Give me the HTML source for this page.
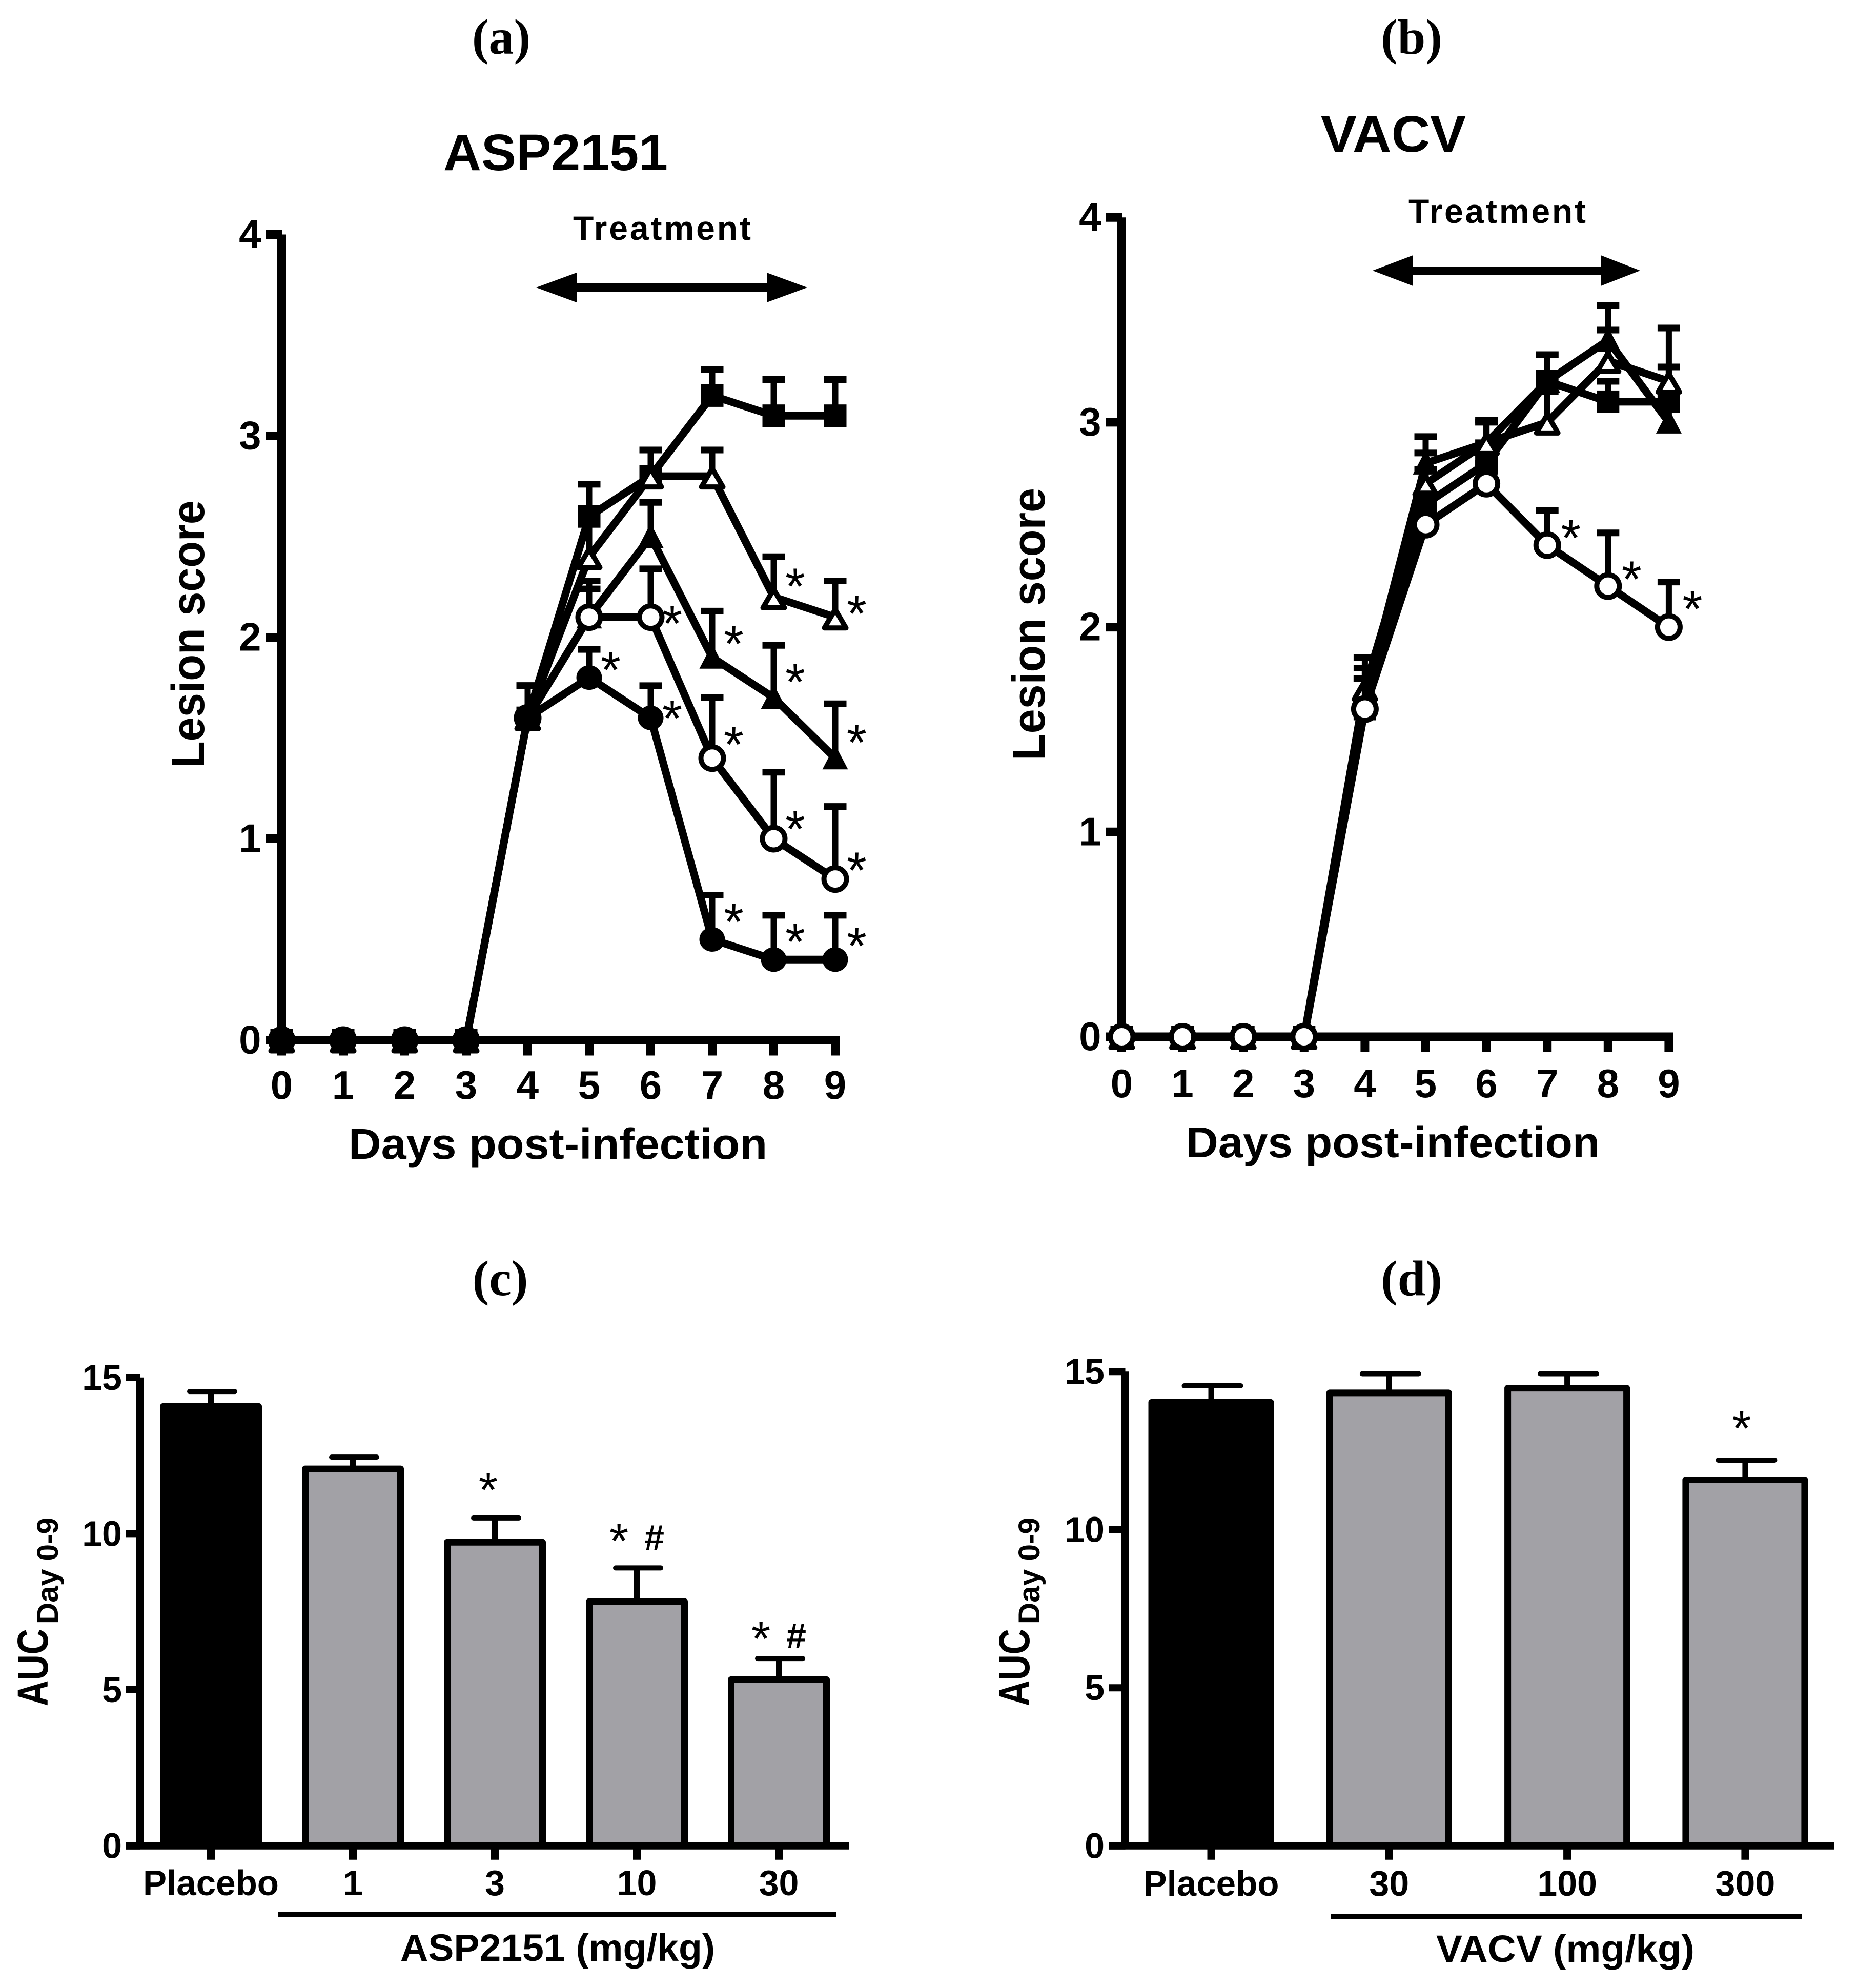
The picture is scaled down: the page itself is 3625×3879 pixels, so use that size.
<!DOCTYPE html>
<html lang="en"><head><meta charset="utf-8"><title>Lesion score and AUC panels</title>
<style>
html,body{margin:0;padding:0;background:#fff}
svg{display:block}
text{fill:#000;font-family:"Liberation Sans",sans-serif;font-weight:bold}
.serif{font-family:"Liberation Serif",serif}
</style></head><body>
<svg id="fig" xmlns="http://www.w3.org/2000/svg" width="3625" height="3879" viewBox="0 0 3625 3879">
<rect x="0" y="0" width="3625" height="3879" fill="#fff"/>
<text class="serif" x="978" y="105" font-size="98" text-anchor="middle">(a)</text>
<text class="serif" x="2754" y="105" font-size="98" text-anchor="middle">(b)</text>
<text class="serif" x="976" y="2527" font-size="98" text-anchor="middle">(c)</text>
<text class="serif" x="2754" y="2527" font-size="98" text-anchor="middle">(d)</text>

<text x="865" y="332" font-size="100" textLength="438" lengthAdjust="spacingAndGlyphs">ASP2151</text>
<text x="2577" y="296" font-size="100" textLength="283" lengthAdjust="spacingAndGlyphs">VACV</text>
<text x="1118" y="468" font-size="66" textLength="347" lengthAdjust="spacing">Treatment</text>
<text x="2748" y="435" font-size="66" textLength="346" lengthAdjust="spacing">Treatment</text>
<g>
<rect x="1120" y="553" width="380" height="16" fill="#000"/>
<polygon points="1046,561 1125,532 1125,590" fill="#000"/>
<polygon points="1575,561 1496,532 1496,590" fill="#000"/>
</g>
<g>
<rect x="2752" y="520" width="376" height="16" fill="#000"/>
<polygon points="2678,528 2757,498 2757,558" fill="#000"/>
<polygon points="3200,528 3123,498 3123,558" fill="#000"/>
</g>

<text transform="translate(398,1498) rotate(-90)" font-size="90" textLength="522" lengthAdjust="spacingAndGlyphs">Lesion score</text>
<text transform="translate(2038,1484) rotate(-90)" font-size="90" textLength="532" lengthAdjust="spacingAndGlyphs">Lesion score</text>
<text x="680" y="2261" font-size="84" textLength="817" lengthAdjust="spacingAndGlyphs">Days post-infection</text>
<text x="2314" y="2258" font-size="84" textLength="807" lengthAdjust="spacingAndGlyphs">Days post-infection</text>

<text transform="translate(93,3329) rotate(-90)" font-size="84" textLength="151" lengthAdjust="spacingAndGlyphs">AUC</text>
<text transform="translate(113,3169) rotate(-90)" font-size="58" textLength="208" lengthAdjust="spacingAndGlyphs">Day 0-9</text>
<text transform="translate(2008,3329) rotate(-90)" font-size="84" textLength="151" lengthAdjust="spacingAndGlyphs">AUC</text>
<text transform="translate(2028,3169) rotate(-90)" font-size="58" textLength="208" lengthAdjust="spacingAndGlyphs">Day 0-9</text>

<rect x="543" y="3730" width="1089" height="10" fill="#000"/>
<rect x="2596" y="3734" width="919" height="10" fill="#000"/>
<text x="781" y="3826" font-size="74" textLength="614" lengthAdjust="spacingAndGlyphs">ASP2151 (mg/kg)</text>
<text x="2802" y="3828" font-size="74" textLength="504" lengthAdjust="spacingAndGlyphs">VACV (mg/kg)</text>
<g id="plots"></g>
</svg>
<script>
// ---- Chart (a) data ----
const days = [0,1,2,3,4,5,6,7,8,9];
const lesionTicks = [0,1,2,3,4];
const aSquareValues   = [0,0,0,0,1.6,2.6,2.8,3.2,3.1,3.1];
const aSquareErrors   = [0,0,0,0,1.76,2.76,2.93,3.33,3.28,3.28];
const aOpenTriValues  = [0,0,0,0,1.6,2.4,2.8,2.8,2.2,2.1];
const aOpenTriErrors  = [0,0,0,0,1.76,2.6,2.93,2.93,2.4,2.28];
const aFillTriValues  = [0,0,0,0,1.6,2.1,2.5,1.9,1.7,1.4];
const aFillTriErrors  = [0,0,0,0,1.76,2.28,2.67,2.13,1.96,1.67];
const aOpenCircValues = [0,0,0,0,1.6,2.1,2.1,1.4,1.0,0.8];
const aOpenCircErrors = [0,0,0,0,1.76,2.24,2.34,1.70,1.33,1.16];
const aFillCircValues = [0,0,0,0,1.6,1.8,1.6,0.5,0.4,0.4];
const aFillCircErrors = [0,0,0,0,1.76,1.94,1.76,0.72,0.62,0.62];
const aStarDays   = [8,9,6,7,5,6,8,9,7,8,9,7,8,9];
const aStarLevels = [2.285,2.15,2.10,2.0,1.87,1.63,1.81,1.51,1.50,1.08,0.875,0.62,0.52,0.50];
// ---- Chart (b) data ----
const bSquareValues   = [0,0,0,0,1.6,2.6,2.8,3.2,3.1,3.1];
const bSquareErrors   = [0,0,0,0,1.75,2.77,2.9,3.33,3.2,3.27];
const bFillTriValues  = [0,0,0,0,1.65,2.8,2.9,3.2,3.4,3.0];
const bFillTriErrors  = [0,0,0,0,1.85,2.93,3.01,3.33,3.57,3.1];
const bOpenTriValues  = [0,0,0,0,1.7,2.7,2.9,3.0,3.3,3.2];
const bOpenTriErrors  = [0,0,0,0,1.8,2.85,3.0,3.15,3.45,3.46];
const bOpenCircValues = [0,0,0,0,1.6,2.5,2.7,2.4,2.2,2.0];
const bOpenCircErrors = [0,0,0,0,1.75,2.65,2.8,2.57,2.46,2.22];
const bStarDays   = [7,8,9];
const bStarLevels = [2.467,2.266,2.12];
// ---- Chart (c) data ----
const cCategories = ['Placebo','1','3','10','30'];
const cValues = [14.18,12.18,9.83,7.93,5.43];
const cErrors = [14.55,12.45,10.5,8.9,6.0];
const cStarBars = [2,3,4];
const cStarLevels = [11.6,9.97,6.83];
const cHashBars = [3,4];
// ---- Chart (d) data ----
const dCategories = ['Placebo','30','100','300'];
const dValues = [14.13,14.43,14.58,11.68];
const dErrors = [14.55,14.93,14.93,12.2];
const dStarBars = [3];
const dStarLevels = [13.4];
const dHashBars = [];
const aucTicks = [0,5,10,15];

const NS = 'http://www.w3.org/2000/svg';
const plots = document.getElementById('plots');
function mk(parent, tag, attrs, txt) {
  const el = document.createElementNS(NS, tag);
  for (const k in attrs) el.setAttribute(k, attrs[k]);
  if (txt !== undefined) el.textContent = txt;
  parent.appendChild(el);
  return el;
}
function star(parent, cx, cy, size, name) {
  const el = mk(parent, 'text', {x: cx, y: cy + size * 0.47, 'font-size': size, 'text-anchor': 'middle', style: 'font-weight:normal'}, '*');
  
  
}
function marker(parent, kind, cx, cy, name) {
  let el;
  if (kind === 'square') el = mk(parent, 'rect', {x: cx - 22, y: cy - 22, width: 44, height: 44, fill: '#000'});
  if (kind === 'fillCirc') el = mk(parent, 'ellipse', {cx: cx, cy: cy, rx: 25, ry: 24, fill: '#000'});
  if (kind === 'openCirc') el = mk(parent, 'circle', {cx: cx, cy: cy, r: 22, fill: '#fff', stroke: '#000', 'stroke-width': 10});
  if (kind === 'fillTri') el = mk(parent, 'polygon', {points: (cx) + ',' + (cy - 26) + ' ' + (cx + 25) + ',' + (cy + 22) + ' ' + (cx - 25) + ',' + (cy + 22), fill: '#000'});
  if (kind === 'openTri') el = mk(parent, 'polygon', {points: (cx) + ',' + (cy - 15) + ' ' + (cx + 21) + ',' + (cy + 21) + ' ' + (cx - 21) + ',' + (cy + 21), fill: '#fff', stroke: '#000', 'stroke-width': 10, 'stroke-linejoin': 'round'});
  
  
}
function linePanel(id, g0, series, stars) {
  const x = d => g0.x0 + d * g0.dx;
  const y = v => g0.y0 - v * g0.dy;
  const g = mk(plots, 'g', {});
  
  
  const ya = mk(g, 'line', {x1: x(0), x2: x(0), y1: y(4), y2: y(0), stroke: '#000', 'stroke-width': 17});
  
  
  const xa = mk(g, 'line', {x1: x(0) - 31.5, x2: x(9) + 8.5, y1: y(0), y2: y(0), stroke: '#000', 'stroke-width': 17});
  
  
  lesionTicks.forEach(t => {
    const tk = mk(g, 'line', {x1: x(0) - 31.5, x2: x(0) + 0.5, y1: y(t), y2: y(t), stroke: '#000', 'stroke-width': 17});
    
    
    const lb = mk(g, 'text', {x: x(0) - g0.ylabGap, y: y(t) + 26, 'font-size': 78, 'text-anchor': 'end'}, String(t));
    
    
  });
  days.forEach(d => {
    const tk = mk(g, 'line', {x1: x(d), x2: x(d), y1: y(0), y2: y(0) + 30, stroke: '#000', 'stroke-width': 17});
    
    
    const lb = mk(g, 'text', {x: x(d), y: g0.xlabY, 'font-size': 78, 'text-anchor': 'middle'}, String(d));
    
    
  });
  series.forEach(s => {
    const sg = mk(g, 'g', {});
    
    
    days.forEach((d, i) => {
      if (s.errors[i] <= s.values[i]) return;
      const v = mk(sg, 'line', {x1: x(d), x2: x(d), y1: y(s.errors[i]), y2: y(s.values[i]), stroke: '#000', 'stroke-width': 12});
      
      
      const c = mk(sg, 'line', {x1: x(d) - 22, x2: x(d) + 22, y1: y(s.errors[i]), y2: y(s.errors[i]), stroke: '#000', 'stroke-width': 13});
      
      
    });
    const pts = days.map((d, i) => x(d) + ',' + y(s.values[i])).join(' ');
    const pl = mk(sg, 'polyline', {points: pts, fill: 'none', stroke: '#000', 'stroke-width': 15, 'stroke-linejoin': 'round'});
    
    
    days.forEach((d, i) => marker(sg, s.kind, x(d), y(s.values[i]), 'point-' + s.name + '-day-' + d));
  });
  stars.days.forEach((d, i) => star(g, x(d) + g0.starDx, y(stars.levels[i]), g0.starSize, 'significance-star'));
}
function barPanel(id, g0, cats, vals, errs, starBars, starLevels, hashBars) {
  const y = v => g0.y0 - v * g0.dy;
  const cx = i => g0.first + i * g0.step;
  const g = mk(plots, 'g', {});
  
  
  cats.forEach((c, i) => {
    const bg = mk(g, 'g', {});
    
    
    const ev = mk(bg, 'line', {x1: cx(i), x2: cx(i), y1: y(errs[i]), y2: y(vals[i]) + 6, stroke: '#000', 'stroke-width': 11});
    
    
    const ec = mk(bg, 'line', {x1: cx(i) - g0.cap + 2.5 + 5, x2: cx(i) + g0.cap + 2.5 - 5, y1: y(errs[i]), y2: y(errs[i]), stroke: '#000', 'stroke-width': 10, 'stroke-linecap': 'round'});
    
    
    const r = mk(bg, 'rect', {x: cx(i) - g0.w / 2 + 6.5, y: y(vals[i]) + 6.5, width: g0.w - 13, height: g0.y0 - y(vals[i]) - 6.5, fill: i === 0 ? '#000' : '#a2a1a6', stroke: '#000', 'stroke-width': 13, 'stroke-linejoin': 'round'});
    
    
    const tk = mk(g, 'line', {x1: cx(i), x2: cx(i), y1: g0.y0, y2: g0.y0 + 27, stroke: '#000', 'stroke-width': 15});
    
    
    const lb = mk(g, 'text', {x: cx(i), y: g0.labY, 'font-size': 70, 'text-anchor': 'middle'}, c);
    if (c === 'Placebo') lb.setAttribute('textLength', '265');
    if (c === 'Placebo') lb.setAttribute('lengthAdjust', 'spacingAndGlyphs');
    
    
  });
  const ya = mk(g, 'line', {x1: g0.ax, x2: g0.ax, y1: y(15), y2: g0.y0, stroke: '#000', 'stroke-width': 15});
  
  
  const xa = mk(g, 'line', {x1: g0.ax - g0.tick, x2: g0.xEnd, y1: g0.y0, y2: g0.y0, stroke: '#000', 'stroke-width': 14});
  
  
  aucTicks.forEach(t => {
    const tk = mk(g, 'line', {x1: g0.ax - g0.tick, x2: g0.ax + 0.5, y1: y(t), y2: y(t), stroke: '#000', 'stroke-width': 14});
    
    
    const lb = mk(g, 'text', {x: g0.ax - g0.labGap, y: y(t) + 24, 'font-size': 70, 'text-anchor': 'end'}, String(t));
    
    
  });
  starBars.forEach((b, i) => {
    const hasHash = hashBars.indexOf(b) >= 0;
    star(g, cx(b) + (hasHash ? -35 : g0.starDx), y(starLevels[i]), 96, 'significance-star');
    if (hasHash) {
      const h = mk(g, 'text', {x: cx(b) + 34, y: y(starLevels[i]) + 30, 'font-size': 70, 'text-anchor': 'middle'}, '#');
      
      
    }
  });
}
linePanel('a', {x0: 549.5, dx: 120, y0: 2029.5, dy: 393, ylabGap: 40, xlabY: 2144, starDx: 42, starSize: 100}, [
  {name: 'placebo', kind: 'square', values: aSquareValues, errors: aSquareErrors},
  {name: 'open-triangle', kind: 'openTri', values: aOpenTriValues, errors: aOpenTriErrors},
  {name: 'filled-triangle', kind: 'fillTri', values: aFillTriValues, errors: aFillTriErrors},
  {name: 'open-circle', kind: 'openCirc', values: aOpenCircValues, errors: aOpenCircErrors},
  {name: 'filled-circle', kind: 'fillCirc', values: aFillCircValues, errors: aFillCircErrors}
], {days: aStarDays, levels: aStarLevels});
linePanel('b', {x0: 2188.5, dx: 118.6, y0: 2023, dy: 399.7, ylabGap: 40, xlabY: 2141, starDx: 46, starSize: 100}, [
  {name: 'placebo', kind: 'square', values: bSquareValues, errors: bSquareErrors},
  {name: 'filled-triangle', kind: 'fillTri', values: bFillTriValues, errors: bFillTriErrors},
  {name: 'open-triangle', kind: 'openTri', values: bOpenTriValues, errors: bOpenTriErrors},
  {name: 'open-circle', kind: 'openCirc', values: bOpenCircValues, errors: bOpenCircErrors}
], {days: bStarDays, levels: bStarLevels});
barPanel('c', {y0: 3601.7, dy: 60.93, first: 411.5, step: 277, w: 199, ax: 272.5, xEnd: 1657, cap: 49, labY: 3698, starDx: -13, tick: 27.5, labGap: 34.5}, cCategories, cValues, cErrors, cStarBars, cStarLevels, cHashBars);
barPanel('d', {y0: 3601.7, dy: 61.7, first: 2363, step: 347.3, w: 245, ax: 2195, xEnd: 3578, cap: 60, labY: 3699, starDx: -7, tick: 31, labGap: 40}, dCategories, dValues, dErrors, dStarBars, dStarLevels, dHashBars);
</script>
</body></html>
